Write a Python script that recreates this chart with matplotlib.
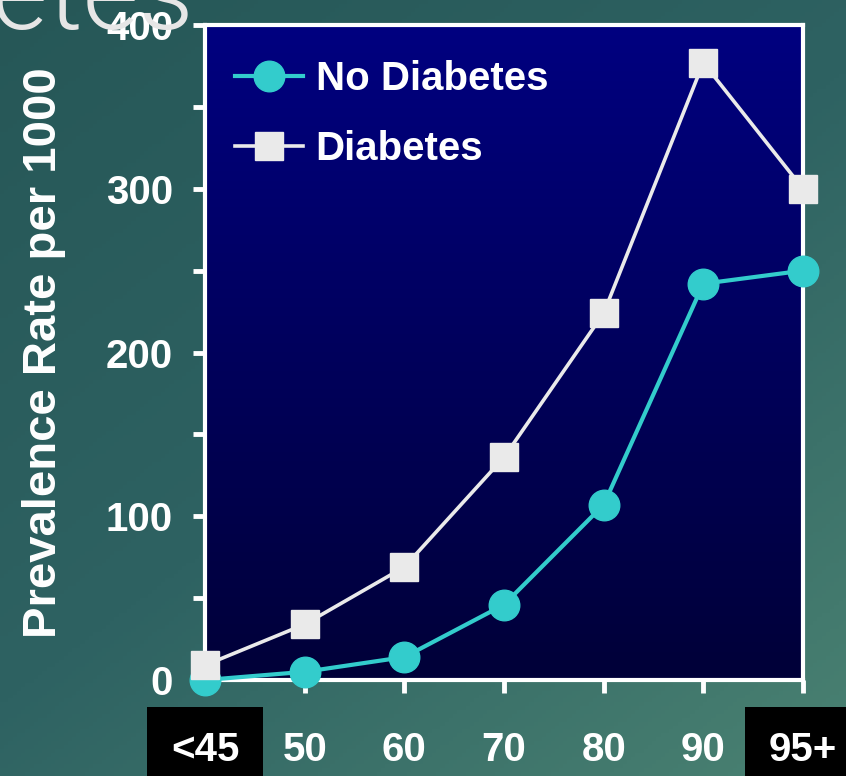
import numpy as np
import matplotlib
matplotlib.use('Agg')
import matplotlib.pyplot as plt
from matplotlib.colors import LinearSegmentedColormap

plt.rcParams['font.family'] = ['Liberation Sans', 'DejaVu Sans']

# %% data: prevalence rate per 1000 by age group
ages = ['<45', '50', '60', '70', '80', '90', '95+']
no_diabetes = [0, 5, 14, 46, 107, 242, 250]
diabetes = [9, 34, 69, 136, 224, 377, 300]

# %% figure with the slide background
fig = plt.figure(figsize=(8.46, 7.76), dpi=100)

bg = fig.add_axes([0, 0, 1, 1], zorder=-10)
yy, xx = np.mgrid[0:1:200j, 0:1:200j]
bg_cmap = LinearSegmentedColormap.from_list('slide', ['#265757', '#2e6262', '#4a8272'])
bg.imshow(0.45 * xx + 0.55 * yy, cmap=bg_cmap, aspect='auto', extent=(0, 1, 0, 1), origin='upper')
bg.axis('off')

# slide title, mostly off the top of the frame
fig.text(194 / 846, 1 - 29 / 776, 'Diabetes', ha='right', va='baseline',
         fontsize=78, color='#e6e6e6', family=['Roboto', 'DejaVu Sans'], fontweight=300)

ax = fig.add_axes([205 / 846, 1 - 680 / 776, 598 / 846, 655 / 776])

# navy gradient inside the plot area
grad = np.linspace(1, 0, 256).reshape(-1, 1)
navy = LinearSegmentedColormap.from_list('navy', ['#000038', '#000080'])
ax.imshow(grad, cmap=navy, aspect='auto', extent=(0, 1, 0, 1),
          transform=ax.transAxes, zorder=0)

x = np.arange(len(ages))
ax.plot(x, no_diabetes, color='#33cccc', lw=3, marker='o', ms=22,
        clip_on=False, zorder=3, label='No Diabetes')
ax.plot(x, diabetes, color='#eaeaea', lw=2.6, marker='s', ms=20, mec='#eaeaea',
        clip_on=False, zorder=4, label='Diabetes')

ax.set_xlim(0, 6)
ax.set_ylim(0, 400)
ax.set_xticks(x)
ax.set_xticklabels(ages)
ax.set_yticks([0, 100, 200, 300, 400])
ax.set_yticks([50, 150, 250, 350], minor=True)

for s in ['top', 'bottom', 'left', 'right']:
    ax.spines[s].set_color('white')
    ax.spines[s].set_linewidth(3)

ax.tick_params(axis='both', which='both', color='white', width=3.5, length=9,
               labelcolor='white', labelsize=29)
ax.tick_params(axis='y', pad=14)
ax.tick_params(axis='x', pad=28)
for lab in ax.get_xticklabels() + ax.get_yticklabels():
    lab.set_fontweight('bold')

# first and last age groups get black boxes
for lab in ax.get_xticklabels():
    if lab.get_text() in ('<45', '95+'):
        lab.set_bbox(dict(boxstyle='square,pad=0.6', fc='black', ec='none'))

ax.set_ylabel('Prevalence Rate per 1000', color='white', fontsize=34,
              fontweight='bold', labelpad=29)

leg = ax.legend(loc='upper left', bbox_to_anchor=(0.003, 0.99), frameon=False,
                handlelength=1.7, handletextpad=0.3, labelspacing=0.8,
                borderaxespad=0.3, prop={'weight': 'bold', 'size': 29})
for t in leg.get_texts():
    t.set_color('white')

fig.savefig('out.png', dpi=100)
